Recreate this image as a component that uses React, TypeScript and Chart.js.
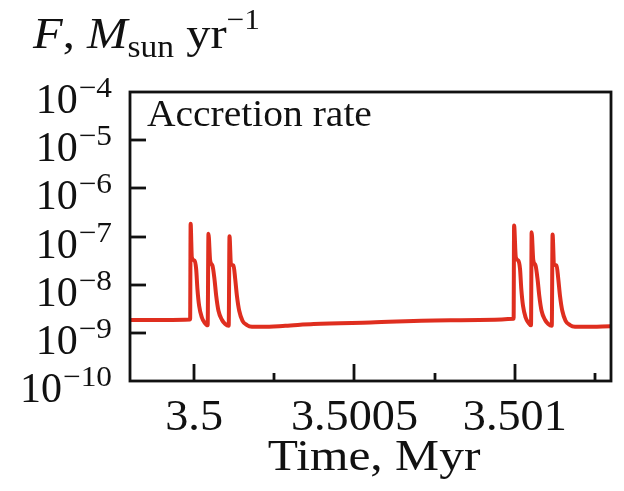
import React, { useEffect, useRef } from 'react';
import { Chart, registerables } from 'chart.js';

Chart.register(...registerables);

// Time, Myr
const timeMyr = [
  3.4998, 3.4999875, 3.4999891, 3.4999928, 3.5000009, 3.5000063, 3.5000103, 3.5000156,
  3.5000241, 3.5000322, 3.5000422,
  3.5000447, 3.50005, 3.5000572, 3.5000634, 3.5000688, 3.5000759, 3.5000866, 3.5000969,
  3.5001078,
  3.5001103, 3.5001147, 3.5001228, 3.5001281, 3.5001334, 3.5001406, 3.5001509, 3.5001647,
  3.5001803, 3.5002116, 3.5002844, 3.5003728, 3.50055, 3.5008, 3.5009963,
  3.5009978, 3.5010031, 3.5010109, 3.5010163, 3.5010203, 3.5010256, 3.5010338, 3.5010419,
  3.5010506,
  3.5010525, 3.5010575, 3.5010647, 3.5010709, 3.5010763, 3.5010834, 3.5010941, 3.5011044,
  3.5011153,
  3.5011178, 3.5011222, 3.5011303, 3.5011356, 3.5011409, 3.5011481, 3.5011584, 3.5011722,
  3.5011878, 3.5012188, 3.5013,
];

// Accretion rate F, Msun/yr
const accretionRate = [
  1.84e-9, 1.9e-9, 1.84e-7, 3.71e-8, 3.16e-8, 2.12e-8, 8.1e-9, 3.65e-9,
  2.08e-9, 1.64e-9, 1.43e-9,
  1.14e-7, 3.16e-8, 2.49e-8, 1.31e-8, 5.9e-9, 2.87e-9, 1.87e-9, 1.52e-9,
  1.4e-9,
  1.01e-7, 2.7e-8, 2.49e-8, 1.31e-8, 5.9e-9, 2.87e-9, 1.78e-9, 1.45e-9,
  1.34e-9, 1.33e-9, 1.4e-9, 1.52e-9, 1.64e-9, 1.82e-9, 1.95e-9,
  1.7e-7, 3.7e-8, 3.16e-8, 2.12e-8, 8.1e-9, 3.65e-9, 2.08e-9, 1.64e-9,
  1.43e-9,
  1.23e-7, 3.3e-8, 2.5e-8, 1.31e-8, 5.9e-9, 2.87e-9, 1.87e-9, 1.52e-9,
  1.4e-9,
  1.1e-7, 2.7e-8, 2.49e-8, 1.31e-8, 5.9e-9, 2.87e-9, 1.78e-9, 1.45e-9,
  1.34e-9, 1.33e-9, 1.37e-9,
];

const xMin = 3.4998;
const xMax = 3.5013;
const xMajorTicks = [3.5, 3.5005, 3.501];
const xMajorLabels = ['3.5', '3.5005', '3.501'];
const xMinorTicks = [3.50025, 3.50075, 3.50125];
const yExponents = [-4, -5, -6, -7, -8, -9, -10];
const yExponentLabels = ['\u22124', '\u22125', '\u22126', '\u22127', '\u22128', '\u22129', '\u221210'];

const panelLabel = 'Accretion rate';
const xAxisTitle = 'Time, Myr';

const SERIF = '"Liberation Serif", "DejaVu Serif", serif';
const LINE_COLOR = '#df2e1f';
const INK = '#111111';

function drawText(ctx: any, text: string, x: number, y: number, font: string, align: string, sx: number) {
  ctx.font = font;
  const w = ctx.measureText(text).width * sx;
  let left = x;
  if (align === 'center') left = x - w / 2;
  else if (align === 'right') left = x - w;
  ctx.save();
  ctx.translate(left, y);
  ctx.scale(sx, 1);
  ctx.textAlign = 'left';
  ctx.fillText(text, 0, 0);
  ctx.restore();
  return w;
}

const decorPlugin = {
  id: 'decor',
  afterDraw(chart: any) {
    const { ctx, chartArea, scales } = chart;
    const xs = scales.x;
    const ys = scales.y;
    const { left, right, top, bottom } = chartArea;
    ctx.save();
    ctx.strokeStyle = INK;
    ctx.fillStyle = INK;
    ctx.lineWidth = 2.8;
    ctx.lineCap = 'butt';
    ctx.strokeRect(left, top, right - left, bottom - top);
    yExponents.forEach((e) => {
      if (e === -4 || e === -10) return;
      const y = Math.round(ys.getPixelForValue(Math.pow(10, e)));
      ctx.beginPath();
      ctx.moveTo(left, y);
      ctx.lineTo(left + 16, y);
      ctx.stroke();
    });
    xMajorTicks.forEach((v) => {
      const x = Math.round(xs.getPixelForValue(v));
      ctx.beginPath();
      ctx.moveTo(x, bottom);
      ctx.lineTo(x, bottom - 17);
      ctx.stroke();
    });
    xMinorTicks.forEach((v) => {
      const x = Math.round(xs.getPixelForValue(v));
      ctx.beginPath();
      ctx.moveTo(x, bottom);
      ctx.lineTo(x, bottom - 8);
      ctx.stroke();
    });

    ctx.textBaseline = 'alphabetic';
    yExponents.forEach((e, i) => {
      const y = ys.getPixelForValue(Math.pow(10, e));
      const rightX = 112;
      const supW = drawText(ctx, yExponentLabels[i], rightX, y + 5, `29px ${SERIF}`, 'right', 1.08);
      drawText(ctx, '10', rightX - supW - 1, y + 21, `42px ${SERIF}`, 'right', 1.0);
    });

    xMajorTicks.forEach((v, i) => {
      const x = xs.getPixelForValue(v);
      drawText(ctx, xMajorLabels[i], x, 430, `44px ${SERIF}`, 'center', 1.05);
    });
    drawText(ctx, xAxisTitle, 374, 470, `45px ${SERIF}`, 'center', 1.1);

    drawText(ctx, panelLabel, 147, 126, `38px ${SERIF}`, 'left', 1.04);

    let cx = 33;
    const base = 48;
    const parts: Array<[string, string, number]> = [
      ['F', `italic 45px ${SERIF}`, 0],
      [', ', `45px ${SERIF}`, 0],
      ['M', `italic 45px ${SERIF}`, 0],
      ['sun', `31px ${SERIF}`, 9],
      [' yr', `45px ${SERIF}`, 0],
      ['\u22121', `29px ${SERIF}`, -19],
    ];
    parts.forEach(([t, f, dy]) => {
      cx += drawText(ctx, t, cx, base + dy, f, 'left', 1.08);
    });
    ctx.restore();
  },
};

export default function App() {
  const canvasRef = useRef<HTMLCanvasElement | null>(null);

  useEffect(() => {
    const canvas = canvasRef.current;
    if (!canvas) return;
    const points = timeMyr.map((t, i) => ({ x: t, y: accretionRate[i] }));
    const chart = new Chart(canvas, {
      type: 'line',
      data: {
        datasets: [
          {
            data: points,
            borderColor: LINE_COLOR,
            borderWidth: 4,
            pointRadius: 0,
            fill: false,
            cubicInterpolationMode: 'monotone',
          },
        ],
      },
      options: {
        responsive: false,
        animation: false,
        layout: { padding: { left: 130, top: 92, right: 13, bottom: 110 } },
        scales: {
          x: { type: 'linear', min: xMin, max: xMax, display: false },
          y: { type: 'logarithmic', min: 1e-10, max: 1e-4, display: false },
        },
        plugins: {
          legend: { display: false },
          tooltip: { enabled: false },
        },
      },
      plugins: [decorPlugin],
    });
    return () => chart.destroy();
  }, []);

  return (
    <div style={{ position: 'absolute', left: 0, top: 0, width: 624, height: 491, background: '#fff' }}>
      <canvas ref={canvasRef} width={624} height={491} style={{ width: 624, height: 491 }} />
    </div>
  );
}
